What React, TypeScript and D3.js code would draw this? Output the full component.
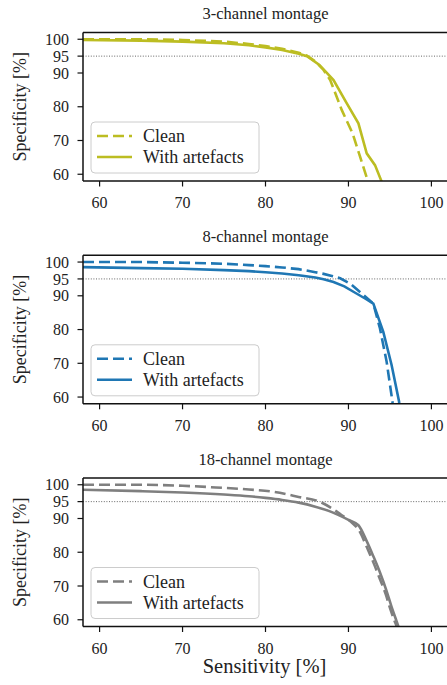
import React from "react";
import * as d3 from "d3";

// ---- data ----
const panelTitles = ["3-channel montage", "8-channel montage", "18-channel montage"];
const panelColors = ["#bcbd22", "#1f77b4", "#7f7f7f"];
const sensTicks = [60, 70, 80, 90, 100];
const specTicks = [60, 70, 80, 90, 95, 100];
const thresholdSpec = 95;
const legendLabels = ["Clean", "With artefacts"];

type P = [number, number];

const clean3: P[] = [
  [58, 100], [65, 100], [70, 99.8], [75, 99.3], [78, 98.6], [80, 98.0], [82, 97.2],
  [84, 96.0], [85, 95.1], [86, 93.4], [87, 90.9], [87.8, 87.9], [88.5, 83.5],
  [89.2, 79.0], [90.5, 72.1], [91.4, 65.2], [92.3, 58.3], [92.5, 56],
];
const artefacts3: P[] = [
  [58, 99.8], [65, 99.6], [70, 99.3], [75, 98.8], [78, 98.2], [80, 97.6], [82, 96.8],
  [84, 95.7], [85, 95.0], [86.5, 92.4], [88.2, 87.9], [89.8, 81.0], [91.2, 75.1],
  [92.2, 66.2], [93.2, 62.7], [94.3, 56],
];

const clean8: P[] = [
  [58, 100], [65, 100], [70, 99.8], [75, 99.5], [78, 99.1], [80, 98.8], [82, 98.4],
  [84, 97.9], [86, 97.0], [87, 96.5], [88, 95.9], [89, 95.2], [90.2, 93.6], [91.6, 90.7],
  [93.0, 87.7], [93.8, 80.3], [94.6, 70.5], [95.3, 58.7], [95.4, 56],
];
const artefacts8: P[] = [
  [58, 98.5], [65, 98.2], [70, 98.0], [75, 97.6], [78, 97.3], [80, 97.0], [82, 96.6],
  [84, 96.1], [86, 95.4], [87, 94.9], [88.2, 94.1], [89.5, 92.8], [90.6, 91.2], [92, 89.2],
  [93.0, 87.7], [94.2, 79.3], [95.2, 69.5], [96.1, 58.7], [96.2, 56],
];

const clean18: P[] = [
  [58, 100], [65, 100], [70, 99.7], [74, 99.2], [78, 98.6], [81, 97.9], [84, 96.4],
  [86.5, 95.0], [88, 93.0], [89, 91.3], [90.3, 89.0], [91.3, 86.4], [92.2, 81.6],
  [93, 77.0], [93.8, 72.0], [94.5, 67.5], [95.0, 63.5], [95.5, 60.0], [95.9, 57.5], [96.1, 56],
];
const artefacts18: P[] = [
  [58, 98.5], [65, 98.1], [70, 97.7], [75, 97.1], [78, 96.6], [80, 96.1], [82, 95.5],
  [84, 94.7], [86, 93.5], [88, 91.9], [90, 89.6], [91.2, 88.0], [92.2, 83.3],
  [93, 78.8], [93.8, 74.0], [94.6, 68.5], [95.2, 63.8], [95.8, 59.6], [96.3, 56],
];

const cleanSeries = [clean3, clean8, clean18];
const artefactSeries = [artefacts3, artefacts8, artefacts18];

// ---- layout ----
const W = 447;
const H = 685;
const left = 83;
const right = 448;
const panelTops = [32.5, 255.3, 478];
const panelH = 148.5;
const FONT = "'Liberation Serif', 'Times New Roman', serif";

function Panel({ idx }: { idx: number }) {
  const top = panelTops[idx];
  const bottom = top + panelH;
  const x = d3.scaleLinear().domain([58, 102]).range([left, right]);
  const y = d3.scaleLinear().domain([58, 102]).range([bottom, top]);
  const line = d3
    .line<P>()
    .x((d) => x(d[0]))
    .y((d) => y(d[1]))
    .curve(idx === 2 ? d3.curveMonotoneX : d3.curveLinear);
  const color = panelColors[idx];
  const clipId = `clip${idx}`;
  const lw = 2.6;
  const lgX = left + 8;
  const lgY = bottom - 8 - 51;
  return (
    <g>
      <defs>
        <clipPath id={clipId}>
          <rect x={left} y={top} width={right - left} height={panelH} />
        </clipPath>
      </defs>
      <text
        x={(left + right) / 2}
        y={top - 13.5}
        textAnchor="middle"
        fontSize={16.5}
        fontFamily={FONT}
        fill="#222"
      >
        {panelTitles[idx]}
      </text>
      <line
        x1={left}
        x2={right}
        y1={y(thresholdSpec)}
        y2={y(thresholdSpec)}
        stroke="#555"
        strokeWidth={0.9}
        strokeDasharray="1 1.6"
      />
      <g clipPath={`url(#${clipId})`}>
        <path
          d={line(cleanSeries[idx]) || ""}
          fill="none"
          stroke={color}
          strokeWidth={lw}
          strokeDasharray="11 5"
        />
        <path
          d={line(artefactSeries[idx]) || ""}
          fill="none"
          stroke={color}
          strokeWidth={lw}
        />
      </g>
      {/* spines */}
      <line x1={left} x2={right} y1={top} y2={top} stroke="#111" strokeWidth={1.5} />
      <line x1={left} x2={right} y1={bottom} y2={bottom} stroke="#111" strokeWidth={1.5} />
      <line x1={left} x2={left} y1={top} y2={bottom} stroke="#111" strokeWidth={1.5} />
      {/* x ticks */}
      {sensTicks.map((t) => (
        <g key={`x${t}`}>
          <line x1={x(t)} x2={x(t)} y1={bottom} y2={bottom + 5.5} stroke="#111" strokeWidth={1.2} />
          <text
            x={x(t)}
            y={bottom + 27}
            textAnchor="middle"
            fontSize={16}
            fontFamily={FONT}
            fill="#222"
          >
            {t}
          </text>
        </g>
      ))}
      {/* y ticks */}
      {specTicks.map((t) => (
        <g key={`y${t}`}>
          <line x1={left - 5.5} x2={left} y1={y(t)} y2={y(t)} stroke="#111" strokeWidth={1.2} />
          <text
            x={left - 14}
            y={y(t)}
            dy="0.35em"
            textAnchor="end"
            fontSize={16}
            fontFamily={FONT}
            fill="#222"
          >
            {t}
          </text>
        </g>
      ))}
      <text
        transform={`translate(${26},${(top + bottom) / 2}) rotate(-90)`}
        textAnchor="middle"
        fontSize={18}
        fontFamily={FONT}
        fill="#222"
      >
        Specificity [%]
      </text>
      {/* legend */}
      <rect
        x={lgX}
        y={lgY}
        width={168}
        height={51}
        rx={4}
        fill="white"
        fillOpacity={0.8}
        stroke="#cccccc"
        strokeWidth={1}
      />
      {legendLabels.map((lab, i) => {
        const ly = lgY + 14 + i * 21;
        return (
          <g key={lab}>
            <line
              x1={lgX + 6}
              x2={lgX + 41}
              y1={ly}
              y2={ly}
              stroke={color}
              strokeWidth={lw}
              strokeDasharray={i === 0 ? "11 5" : undefined}
            />
            <text
              x={lgX + 52}
              y={ly}
              dy="0.35em"
              fontSize={18}
              fontFamily={FONT}
              fill="#222"
            >
              {lab}
            </text>
          </g>
        );
      })}
    </g>
  );
}

export default function App() {
  return (
    <svg
      width={W}
      height={H}
      viewBox={`0 0 ${W} ${H}`}
      style={{ position: "absolute", left: 0, top: 0, background: "white" }}
    >
      <rect x={0} y={0} width={W} height={H} fill="white" />
      {[0, 1, 2].map((i) => (
        <Panel key={i} idx={i} />
      ))}
      <text
        x={(left + right) / 2 - 1}
        y={673}
        textAnchor="middle"
        fontSize={20.5}
        fontFamily={FONT}
        fill="#222"
      >
        Sensitivity [%]
      </text>
    </svg>
  );
}
